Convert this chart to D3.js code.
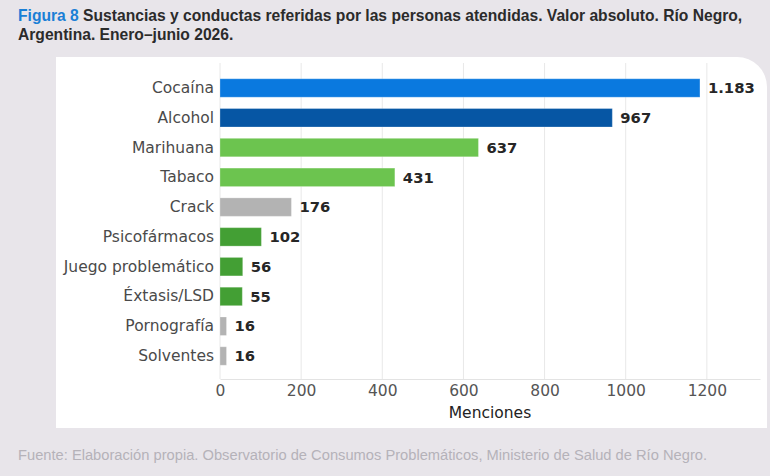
<!DOCTYPE html>
<html><head><meta charset="utf-8">
<script src="https://cdn.jsdelivr.net/npm/d3@7"></script>
<style>html,body{margin:0;padding:0;background:#e8e5ea;}svg{display:block;}</style>
</head><body>
<svg id="c" width="770" height="476"></svg>
<script>
const categories = ["Cocaína","Alcohol","Marihuana","Tabaco","Crack","Psicofármacos","Juego problemático","Éxtasis/LSD","Pornografía","Solventes"];
const values = [1183, 967, 637, 431, 176, 102, 56, 55, 16, 16];
const groups = ["cocaina","alcohol","verde","verde","gris","verdeOsc","verdeOsc","verdeOsc","gris","gris"];
const xTicks = [0, 200, 400, 600, 800, 1000, 1200];
const colorMap = {cocaina:"#0a79df", alcohol:"#0656a4", verde:"#6cc44f", verdeOsc:"#439f34", gris:"#b3b3b3"};

const svg = d3.select("#c");
// panel
const px0=56, py0=57, px1=767, py1=428, r=30;
svg.append("path")
  .attr("d", `M${px0},${py0} H${px1-r} A${r},${r} 0 0 1 ${px1},${py0+r} V${py1} H${px0} Z`)
  .attr("fill","#ffffff");

// title
const title = svg.append("text").attr("x",18).attr("y",21)
  .attr("font-family","'Liberation Sans Narrow','Liberation Sans',Arial,sans-serif")
  .attr("font-weight","bold").attr("font-size",16.5).attr("fill","#2b2b2b");
title.append("tspan").attr("fill","#1a7fd6").text("Figura 8");
title.append("tspan").text(" Sustancias y conductas referidas por las personas atendidas. Valor absoluto. Río Negro,");
const tl = title.node().getComputedTextLength();
title.attr("font-size", 16.5*725/tl);
const t2 = svg.append("text").attr("x",18).attr("y",40)
  .attr("font-family","'Liberation Sans Narrow','Liberation Sans',Arial,sans-serif")
  .attr("font-weight","bold").attr("font-size",16.5*725/tl).attr("fill","#2b2b2b")
  .text("Argentina. Enero–junio 2026.");

// footer
const foot = svg.append("text").attr("x",18).attr("y",460)
  .attr("font-family","'Liberation Sans',Arial,sans-serif").attr("font-size",13.5).attr("fill","#b5b2b9")
  .text("Fuente: Elaboración propia. Observatorio de Consumos Problemáticos, Ministerio de Salud de Río Negro.");
const fl = foot.node().getComputedTextLength();
foot.attr("font-size", 13.5*690/fl);

const x = d3.scaleLinear().domain([0,1331]).range([220,760]);
const y = d3.scaleBand().domain(categories).range([73.1,370.9]).paddingInner(0.38).paddingOuter(0.19);
const axisY = 379;

// gridlines
svg.append("g").selectAll("line").data(xTicks).join("line")
  .attr("x1",d=>x(d)).attr("x2",d=>x(d)).attr("y1",63).attr("y2",axisY)
  .attr("stroke","#e8e8e8").attr("stroke-width",1);

// x axis
const xa = svg.append("g").attr("transform",`translate(0,${axisY})`)
  .call(d3.axisBottom(x).tickValues(xTicks).tickSize(0).tickPadding(6).tickFormat(d3.format("d")));
xa.select(".domain").attr("stroke","#e3e3e3");
xa.selectAll("text").attr("font-family","'DejaVu Sans',sans-serif").attr("font-size",15.5).attr("fill","#555");

svg.append("text").attr("x",x(665.5)).attr("y",418).attr("text-anchor","middle")
  .attr("font-family","'DejaVu Sans',sans-serif").attr("font-size",15.5).attr("fill","#222")
  .text("Menciones");

// y axis labels
const ya = svg.append("g").attr("transform","translate(220,0)")
  .call(d3.axisLeft(y).tickSize(0).tickPadding(6));
ya.select(".domain").remove();
ya.selectAll("text").attr("font-family","'DejaVu Sans',sans-serif").attr("font-size",15.5).attr("fill","#4a4a4a");

const data = categories.map((c,i)=>({c, v:values[i], g:groups[i]}));
svg.append("g").selectAll("rect").data(data).join("rect")
  .attr("x",x(0)).attr("y",d=>y(d.c)).attr("width",d=>x(d.v)-x(0)).attr("height",y.bandwidth())
  .attr("fill",d=>colorMap[d.g]).attr("stroke","#ffffff").attr("stroke-opacity",0.25).attr("stroke-width",1);

const fmt = d3.formatLocale({decimal:",", thousands:".", grouping:[3], currency:["$",""]}).format(",d");
svg.append("g").selectAll("text").data(data).join("text")
  .attr("x",d=>x(d.v)+8).attr("y",d=>y(d.c)+y.bandwidth()/2).attr("dy","0.35em")
  .attr("font-family","'DejaVu Sans',sans-serif").attr("font-weight","bold").attr("font-size",14.8).attr("fill","#262626")
  .text(d=>fmt(d.v));
</script>
</body></html>
